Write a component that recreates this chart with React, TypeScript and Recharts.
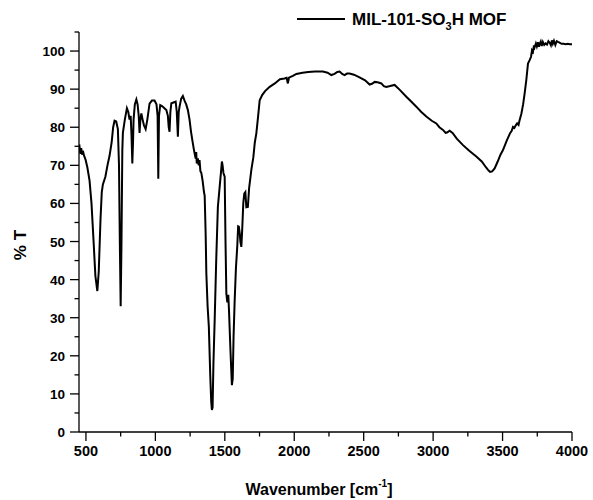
import React from "react";
import { LineChart, Line, XAxis, YAxis } from "recharts";

const wavenumber: number[] = [
  452, 460, 466, 472, 478, 486, 497, 510, 526, 540, 555, 568, 582, 592, 605, 614, 622, 640, 655, 670,
  685, 696, 706, 718, 730, 738, 744, 750, 756, 762, 766, 780, 795, 805, 814, 822, 828, 834, 839, 843,
  852, 863, 872, 880, 886, 892, 899, 908, 918, 930, 942, 958, 975, 994, 1008, 1016, 1021, 1026, 1035, 1050,
  1065, 1079, 1090, 1096, 1102, 1108, 1115, 1130, 1146, 1154, 1162, 1168, 1174, 1186, 1198, 1210, 1222, 1234, 1246, 1256,
  1266, 1278, 1290, 1294, 1298, 1306, 1312, 1318, 1324, 1331, 1340, 1350, 1355, 1362, 1367, 1376, 1385, 1395, 1402, 1407,
  1412, 1418, 1427, 1438, 1450, 1462, 1472, 1479, 1484, 1490, 1499, 1505, 1511, 1518, 1525, 1530, 1540, 1551, 1557, 1563,
  1571, 1580, 1590, 1596, 1601, 1608, 1612, 1619, 1625, 1633, 1640, 1648, 1655, 1666, 1675, 1691, 1705, 1716, 1727, 1740,
  1751, 1770, 1790, 1823, 1860, 1897, 1930, 1945, 1954, 1962, 1990, 2015, 2060, 2100, 2150, 2206, 2240, 2267, 2290, 2310,
  2327, 2345, 2362, 2380, 2398, 2430, 2470, 2510, 2543, 2560, 2579, 2600, 2627, 2645, 2663, 2690, 2723, 2760, 2807, 2840,
  2879, 2915, 2951, 2990, 3023, 3045, 3071, 3090, 3100, 3119, 3140, 3170, 3215, 3260, 3311, 3350, 3380, 3395, 3410, 3425,
  3443, 3465, 3485, 3503, 3530, 3555, 3565, 3575, 3585, 3595, 3605, 3615, 3623, 3635, 3648, 3659, 3671, 3683, 3695, 3705,
  3712, 3719, 3726, 3731, 3740, 3747, 3755, 3762, 3767, 3775, 3782, 3790, 3800, 3810, 3820, 3830, 3839, 3848, 3855, 3862,
  3870, 3880, 3890, 3899, 3910, 3925, 3940, 3955, 3970, 3983, 4000,
];

const transmittance: number[] = [
  75.5, 73.0, 74.5, 72.8, 73.8, 72.6, 71.5, 69.5, 66, 60, 50, 41, 37, 42, 56, 63, 65, 67, 70, 72.5,
  76, 80, 81.7, 81.5, 79.5, 70, 50, 33, 50, 74, 78.5, 82, 85, 84, 82, 83, 78, 70.5, 76, 82,
  86, 87.3, 86, 83, 78.5, 82, 83.6, 82, 80.5, 79.5, 82, 86.2, 87, 87, 86, 83, 66.5, 83, 85.8, 85.5,
  85, 84.5, 83, 80, 78.8, 84, 86.3, 86.5, 86.7, 84, 77.5, 84, 85.4, 87.5, 88.2, 87, 86, 84.5, 82, 79,
  76.6, 74, 71.8, 73.5, 70.5, 71.8, 70, 71.4, 68.5, 68, 66, 63, 62, 52, 41.6, 33, 27.6, 15, 8, 5.8,
  6.5, 18, 29.4, 45, 59.1, 64, 68, 71, 70, 68, 67, 50, 36.4, 34, 36, 32, 22, 12.3, 14, 25,
  34.6, 43, 49, 54, 53.9, 52, 50, 48.6, 53, 60, 62.6, 63, 59, 59.1, 64, 68.8, 72, 76, 78.4, 83,
  87.1, 88.5, 89.5, 90.6, 91.5, 92.6, 92.8, 93, 91.5, 93, 93.5, 94, 94.3, 94.5, 94.6, 94.6, 94.3, 93.7, 94, 94.5,
  94.6, 94, 93.7, 94.1, 94.1, 93.8, 93.1, 92.3, 91.2, 91.4, 91.9, 91.8, 91.5, 90.8, 90.6, 90.8, 91.1, 89.8, 88, 86.8,
  85.4, 84, 82.8, 81.7, 81, 80, 79.3, 78.5, 78.6, 79.1, 78.5, 77, 75.3, 73.8, 72.3, 71, 69.5, 68.8, 68.3, 68.4,
  69.2, 71, 72.8, 74, 76.5, 78.5, 79, 80.1, 79.8, 80.5, 81, 80.6, 81.9, 83.5, 86, 88.9, 92.4, 96.7, 97.6, 98.5,
  100.2, 99.8, 101.5, 101, 102, 101.2, 102.3, 101.1, 101.8, 102.5, 101.3, 102.4, 101.6, 102, 101.7, 102.6, 102.2, 101.5, 102.8, 101.9,
  102.7, 101.6, 102.6, 102.4, 102.2, 101.9, 101.9, 101.8, 101.9, 101.8, 101.8,
];

const xTicks: number[] = [500, 750, 1000, 1250, 1500, 1750, 2000, 2250, 2500, 2750, 3000, 3250, 3500, 3750, 4000];
const yTicks: number[] = [0, 5, 10, 15, 20, 25, 30, 35, 40, 45, 50, 55, 60, 65, 70, 75, 80, 85, 90, 95, 100, 105];

const seriesName = "MIL-101-SO3H MOF";

const data = wavenumber.map((wn, i) => ({ wn, t: transmittance[i] }));

const FONT = "'Liberation Sans', Arial, sans-serif";

const XTick = (props: any) => {
  const { x, y, payload } = props;
  const v = payload.value as number;
  const major = v % 500 === 0;
  return (
    <g>
      <line x1={x} x2={x} y1={y} y2={y + (major ? 9 : 4.5)} stroke="#000" strokeWidth={1.3} />
      {major && (
        <text x={x} y={y + 24} textAnchor="middle" fontFamily={FONT} fontWeight="bold" fontSize={14.5} fill="#000">
          {v}
        </text>
      )}
    </g>
  );
};

const YTick = (props: any) => {
  const { x, y, payload } = props;
  const v = payload.value as number;
  const major = v % 10 === 0;
  return (
    <g>
      <line x1={x} x2={x - (major ? 9 : 4.5)} y1={y} y2={y} stroke="#000" strokeWidth={1.3} />
      {major && (
        <text x={x - 14} y={y + 5} textAnchor="end" fontFamily={FONT} fontWeight="bold" fontSize={13.5} fill="#000">
          {v}
        </text>
      )}
    </g>
  );
};

export default function App() {
  return (
    <div style={{ position: "absolute", left: 0, top: 0, width: 593, height: 500, background: "#fff" }}>
      <LineChart width={593} height={500} data={data} margin={{ top: 32, right: 21, bottom: 0, left: 0 }}>
        <XAxis
          dataKey="wn"
          type="number"
          domain={[450, 4000]}
          ticks={xTicks}
          allowDataOverflow
          height={68}
          tickSize={0}
          tickMargin={0}
          tickLine={false}
          interval={0}
          axisLine={{ stroke: "#000", strokeWidth: 1.3 }}
          tick={<XTick />}
        />
        <YAxis
          type="number"
          domain={[0, 105]}
          ticks={yTicks}
          allowDataOverflow
          width={79}
          tickSize={0}
          tickMargin={0}
          tickLine={false}
          interval={0}
          axisLine={{ stroke: "#000", strokeWidth: 1.3 }}
          tick={<YTick />}
        />
        <Line
          type="linear"
          dataKey="t"
          name={seriesName}
          stroke="#000"
          strokeWidth={2}
          dot={false}
          isAnimationActive={false}
        />
      </LineChart>
      <svg
        width={593}
        height={500}
        style={{ position: "absolute", left: 0, top: 0, pointerEvents: "none" }}
      >
        <line x1={297} x2={345} y1={19} y2={19} stroke="#000" strokeWidth={2} />
        <text x={352} y={25} fontFamily={FONT} fontWeight="bold" fontSize={17} fill="#000">
          MIL-101-SO<tspan fontSize={11} dy={5}>3</tspan>
          <tspan dy={-5}>H MOF</tspan>
        </text>
        <text x={319} y={495} textAnchor="middle" fontFamily={FONT} fontWeight="bold" fontSize={16} fill="#000">
          Wavenumber [cm<tspan fontSize={10} dy={-8}>-1</tspan>
          <tspan dy={8}>]</tspan>
        </text>
        <text
          x={26}
          y={245}
          textAnchor="middle"
          transform="rotate(-90 26 245)"
          fontFamily={FONT}
          fontWeight="bold"
          fontSize={17}
          fill="#000"
        >
          % T
        </text>
      </svg>
    </div>
  );
}
